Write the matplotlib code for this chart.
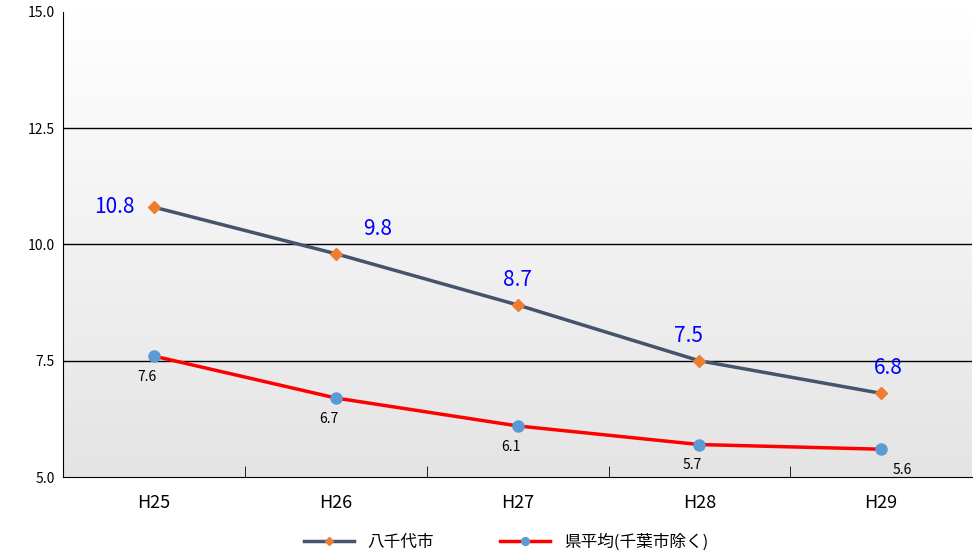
import numpy as np
import matplotlib.pyplot as plt
from matplotlib.colors import LinearSegmentedColormap

plt.rcParams['font.family'] = ['Noto Sans CJK JP', 'DejaVu Sans']

years = ['H25', 'H26', 'H27', 'H28', 'H29']
yachiyo = [10.8, 9.8, 8.7, 7.5, 6.8]
pref_avg = [7.6, 6.7, 6.1, 5.7, 5.6]

fig = plt.figure(figsize=(9.73, 5.6), dpi=100)
ax = fig.add_axes([0.065, 0.148, 0.934, 0.831])
x = np.arange(len(years))

# background gradient: grey at bottom, white at top
grad = np.linspace(0, 1, 256).reshape(-1, 1)
ax.imshow(grad, cmap=LinearSegmentedColormap.from_list('g', ['#e4e4e4', '#ffffff']),
          extent=[-0.5, 4.5, 5, 15], aspect='auto', zorder=0, origin='lower')

for yv in [7.5, 10.0, 12.5]:
    ax.axhline(yv, color='black', lw=1, zorder=1)

ax.plot(x, yachiyo, color='#44546a', lw=2.5, marker='D', ms=6,
        mfc='#ed7d31', mec='#ed7d31', zorder=3, label='八千代市')
ax.plot(x, pref_avg, color='#ff0000', lw=2.5, marker='o', ms=8,
        mfc='#5b9bd5', mec='#5b9bd5', zorder=3, label='県平均(千葉市除く)')

offsets = [None, (30, 10), (0, 10), (-8, 10), (5, 10)]
for i, v in enumerate(yachiyo):
    if i == 0:
        ax.annotate(f'{v}', (x[i], v), xytext=(-14, 0), textcoords='offset points',
                    ha='right', va='center', color='blue', fontsize=15)
    else:
        ax.annotate(f'{v}', (x[i], v), xytext=offsets[i], textcoords='offset points',
                    ha='center', va='bottom', color='blue', fontsize=15)
for i, v in enumerate(pref_avg):
    dx = 20 if i == 4 else 0
    ax.annotate(f'{v}', (x[i], v), xytext=(dx - 5, -10), textcoords='offset points',
                ha='center', va='top', color='black', fontsize=10)

ax.set_xlim(-0.5, 4.5)
ax.set_ylim(5, 15)
ax.set_yticks([5, 7.5, 10, 12.5, 15])
ax.set_yticklabels(['5.0', '7.5', '10.0', '12.5', '15.0'], fontsize=10)
ax.set_xticks(x)
ax.set_xticklabels(years, fontsize=13)
ax.set_xticks(np.arange(0.5, 4.5, 1), minor=True)
ax.tick_params(axis='x', which='major', length=0, pad=12)
ax.tick_params(axis='x', which='minor', length=8, direction='in')
ax.tick_params(axis='y', length=0, pad=6)
for s in ['top', 'right']:
    ax.spines[s].set_visible(False)

fig.legend(loc='lower center', bbox_to_anchor=(0.52, -0.01), ncol=2, frameon=False,
           fontsize=12, handlelength=3, columnspacing=4, markerscale=0.7)
fig.savefig('out.png', dpi=100)
